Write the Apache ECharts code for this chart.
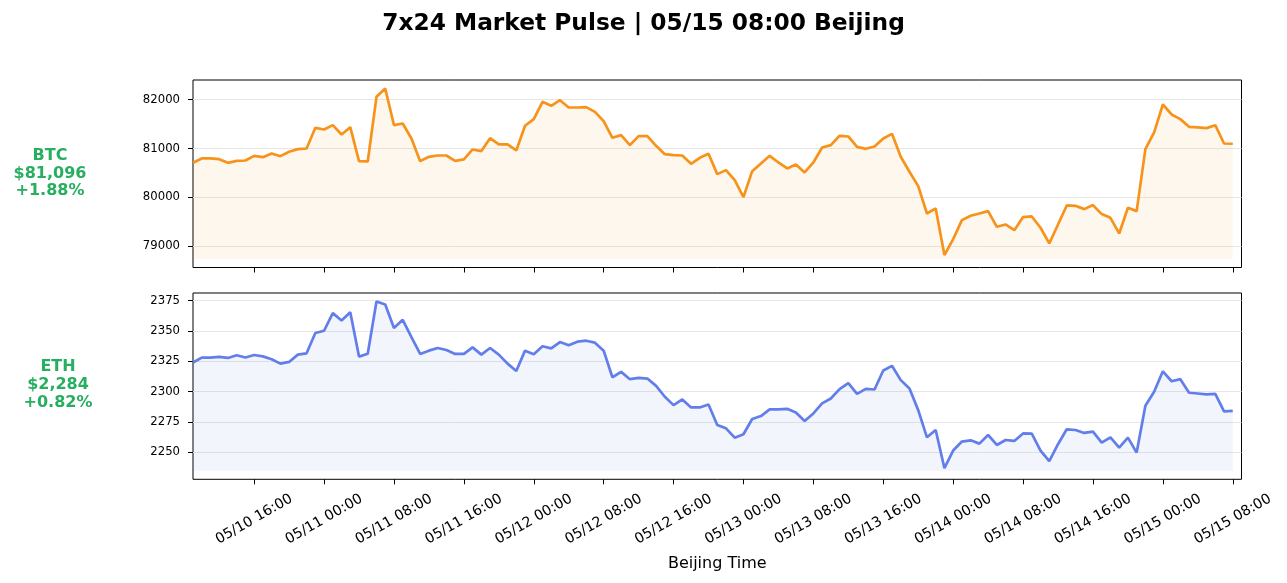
<!DOCTYPE html>
<html>
<head>
<meta charset="UTF-8">
<title>7x24 Market Pulse</title>
<script src="https://cdn.jsdelivr.net/npm/echarts@6.0.0/dist/echarts.min.js"></script>
<style>
  html, body { margin: 0; padding: 0; width: 100%; height: 100%; background: #fff; overflow: hidden; }
  #main { width: 1287px; height: 583px; }
</style>
</head>
<body>
<div id="main"></div>
<script>
// hourly closes, 05/10 09:00 -> 05/15 08:00 (Beijing)
var btcPrices = [
  80707, 80796, 80796, 80782, 80707, 80748, 80755, 80850, 80823, 80898,
  80843, 80932, 80986, 81000, 81422, 81388, 81476, 81286, 81435, 80741,
  80735, 82054, 82224, 81476, 81510, 81204, 80741, 80830, 80857, 80857,
  80748, 80776, 80980, 80946, 81211, 81082, 81082, 80959, 81463, 81599,
  81952, 81871, 81986, 81837, 81837, 81844, 81748, 81558, 81218, 81272,
  81068, 81252, 81252, 81054, 80884, 80864, 80857, 80687, 80810, 80891,
  80476, 80558, 80354, 80007, 80537, 80694, 80850, 80714, 80592, 80673,
  80510, 80714, 81020, 81068, 81259, 81245, 81034, 80993, 81041, 81204,
  81299, 80830, 80524, 80231, 79673, 79776, 78823, 79150, 79537, 79626,
  79673, 79721, 79401, 79449, 79333, 79599, 79612, 79381, 79061, 79449,
  79837, 79830, 79762, 79844, 79660, 79585, 79265, 79789, 79721, 80986,
  81327, 81898, 81694, 81599, 81442, 81429, 81415, 81476, 81102, 81096
];
var ethPrices = [
  2323.9, 2328.0, 2328.0, 2328.5, 2327.7, 2329.9, 2328.0, 2330.1, 2329.0, 2326.6,
  2323.0, 2324.4, 2330.4, 2331.5, 2348.2, 2350.1, 2364.6, 2358.6, 2365.4, 2328.8,
  2331.2, 2374.2, 2371.7, 2352.3, 2359.1, 2344.9, 2331.0, 2333.7, 2335.9, 2334.2,
  2331.0, 2331.0, 2336.4, 2330.4, 2335.9, 2330.4, 2323.0, 2317.0, 2333.7, 2330.7,
  2337.3, 2335.6, 2340.8, 2338.1, 2341.1, 2341.9, 2340.3, 2333.7, 2311.8, 2316.2,
  2310.2, 2311.3, 2310.7, 2304.7, 2295.7, 2288.8, 2293.5, 2286.9, 2286.9, 2289.4,
  2272.4, 2269.7, 2262.0, 2264.8, 2277.4, 2279.8, 2285.3, 2285.3, 2285.8, 2282.8,
  2275.7, 2282.0, 2290.2, 2294.3, 2302.0, 2306.9, 2298.1, 2302.2, 2301.7, 2317.3,
  2321.2, 2309.4, 2302.5, 2284.7, 2262.3, 2268.3, 2236.9, 2251.4, 2258.8, 2259.8,
  2257.1, 2264.2, 2256.0, 2260.1, 2259.3, 2265.5, 2265.3, 2251.4, 2242.6, 2256.6,
  2268.9, 2268.3, 2265.9, 2267.0, 2257.9, 2262.3, 2253.8, 2262.0, 2249.7, 2288.3,
  2299.8, 2316.7, 2308.5, 2310.2, 2299.0, 2298.4, 2297.6, 2298.1, 2283.6, 2284.0
];
var btcTicks = [79000, 80000, 81000, 82000];
var ethTicks = [2250, 2275, 2300, 2325, 2350, 2375];
var btcInfo = ['BTC', '$81,096', '+1.88%'];
var ethInfo = ['ETH', '$2,284', '+0.82%'];

// one category per hour, plus one empty hour at the right edge
var startTime = Date.UTC(2025, 4, 10, 9);
var hours = [];
for (var h = 0; h <= btcPrices.length; h++) {
  var d = new Date(startTime + h * 3600 * 1000);
  hours.push(pad(d.getUTCMonth() + 1) + '/' + pad(d.getUTCDate()) + ' ' + pad(d.getUTCHours()) + ':00');
}
function pad(n) { return n < 10 ? '0' + n : '' + n; }
function everyEight(index, value) { return parseInt(value.slice(6, 8), 10) % 8 === 0; }

var font = 'DejaVu Sans';
var green = '#27ae60';

function xAxisOf(idx, withLabels) {
  return {
    type: 'category', gridIndex: idx, data: hours, boundaryGap: false,
    axisLine: { show: false },
    axisTick: { show: true, interval: everyEight, length: 5, lineStyle: { color: '#000', width: 1 } },
    axisLabel: withLabels ? {
      show: true, interval: everyEight, rotate: 30, align: 'center', verticalAlign: 'middle',
      margin: 40, color: '#000', fontFamily: font, fontSize: 14.2
    } : { show: false },
    splitLine: { show: false },
    name: withLabels ? 'Beijing Time' : '', nameLocation: 'middle', nameGap: 77,
    nameTextStyle: { color: '#000', fontFamily: font, fontSize: 16 }
  };
}
function yAxisOf(idx, ticks, lo, hi) {
  return {
    type: 'value', gridIndex: idx, min: lo, max: hi, scale: true,
    axisLine: { show: false },
    axisTick: { show: true, customValues: ticks, length: 5, lineStyle: { color: '#000', width: 1 } },
    axisLabel: {
      customValues: ticks, margin: 13, color: '#000', fontFamily: font, fontSize: 11.7,
      formatter: function (v) { return String(v); }
    },
    splitLine: { show: true, lineStyle: { color: '#e6e6e6', width: 1 } }
  };
}
function priceSeries(idx, values, color) {
  var base = Math.min.apply(null, values) * 0.999;
  return {
    type: 'line', xAxisIndex: idx, yAxisIndex: idx, data: values,
    symbol: 'none', smooth: false,
    lineStyle: { color: color, width: 2.7 },
    itemStyle: { color: color },
    areaStyle: { color: color, opacity: 0.08, origin: base }
  };
}

var chart = echarts.init(document.getElementById('main'), null, { renderer: 'canvas' });
var option = {
  animation: false,
  backgroundColor: '#fff',
  grid: [
    { left: 193, right: 45.5, top: 80, height: 187.5, show: true, borderColor: '#000', borderWidth: 1, backgroundColor: 'transparent' },
    { left: 193, right: 45.5, top: 293, height: 186.3, show: true, borderColor: '#000', borderWidth: 1, backgroundColor: 'transparent' }
  ],
  xAxis: [xAxisOf(0, false), xAxisOf(1, true)],
  yAxis: [yAxisOf(0, btcTicks, 78570, 82398), yAxisOf(1, ethTicks, 2227.7, 2381.2)],
  series: [
    priceSeries(0, btcPrices, '#f7931a'),
    priceSeries(1, ethPrices, '#627eea')
  ],
  graphic: [
    { type: 'text', left: 'center', top: 12, style: {
        text: '7x24 Market Pulse | 05/15 08:00 Beijing', fill: '#000',
        font: 'bold 23.3px "DejaVu Sans"' } },
    { type: 'text', x: 50, y: 173.5, style: {
        text: btcInfo.join('\n'), fill: green, align: 'center', verticalAlign: 'middle',
        lineHeight: 17.7, font: 'bold 16px "DejaVu Sans"' } },
    { type: 'text', x: 58, y: 385, style: {
        text: ethInfo.join('\n'), fill: green, align: 'center', verticalAlign: 'middle',
        lineHeight: 17.7, font: 'bold 16px "DejaVu Sans"' } }
  ]
};
chart.setOption(option);
window.onresize = function () { chart.resize(); };
</script>
</body>
</html>
